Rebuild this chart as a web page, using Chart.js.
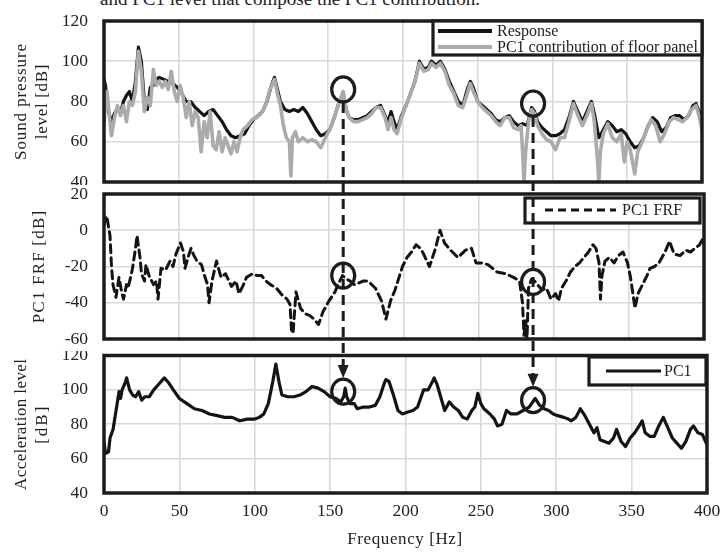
<!DOCTYPE html>
<html>
<head>
<meta charset="utf-8">
<script src="https://cdn.jsdelivr.net/npm/chart.js@4.4.0/dist/chart.umd.min.js"></script>
<style>
  html, body { margin: 0; padding: 0; background: #fff; }
  #wrap { position: relative; width: 722px; height: 552px; overflow: hidden; background: #fff; }
  canvas { position: absolute; left: 0; }
  #cap { position: absolute; left: 100px; top: -12px; font: 19px 'Liberation Serif', serif; color: #222; white-space: nowrap; }
</style>
</head>
<body>
<div id="wrap">
  <div id="cap">and PC1 level that compose the PC1 contribution.</div>
  <canvas id="c1" width="722" height="191" style="top:0"></canvas>
  <canvas id="c3" width="722" height="206" style="top:346px"></canvas>
  <canvas id="c2" width="722" height="166" style="top:185px;background:#fff"></canvas>
  <canvas id="ov" width="722" height="552" style="top:0"></canvas>
</div>
<script>
// ---- top panel: sound pressure level [dB]
const freqResponse = [
  0, 1, 3, 5, 7, 9, 11, 13, 15, 17,
  19, 21, 23, 25, 27, 29, 31, 33, 35, 37,
  40, 43, 46, 49, 52, 55, 58, 61, 64, 67,
  70, 73, 76, 79, 82, 85, 88, 91, 94, 97,
  100, 103, 106, 109, 112, 114, 116, 118, 121, 124,
  127, 130, 133, 136, 139, 142, 145, 148, 151, 154,
  157, 160, 162, 164, 167, 170, 173, 176, 179, 182,
  185, 188, 190, 192, 194, 196, 199, 202, 205, 208,
  211, 214, 217, 219, 222, 225, 228, 231, 234, 237,
  240, 243, 245, 247, 250, 253, 256, 259, 262, 265,
  268, 271, 274, 277, 280, 283, 286, 288, 290, 293,
  296, 299, 302, 305, 308, 311, 314, 317, 320, 323,
  326, 328, 331, 334, 337, 340, 343, 346, 349, 352,
  355, 358, 361, 364, 367, 370, 373, 376, 379, 382,
  385, 388, 391, 394, 396, 398, 400
];
const splResponse = [
  91, 88, 75, 70, 74, 76, 74, 80, 83, 85,
  80, 90, 107, 100, 80, 76, 87, 88, 91, 92,
  91, 90, 89, 87, 84, 80, 80, 77, 75, 73,
  75, 76, 73, 70, 66, 63, 62, 63, 64, 68,
  71, 73, 75, 80, 88, 92, 86, 80, 76, 75,
  76, 75, 77, 74, 70, 66, 63, 64, 66, 72,
  79, 84, 76, 72, 71, 71, 72, 73, 75, 77,
  78, 73, 70, 75, 70, 66, 73, 78, 84, 90,
  100, 96, 97, 100, 98, 100, 96, 90, 85, 80,
  78, 86, 90, 87, 80, 78, 76, 74, 71, 70,
  72, 73, 70, 68, 69, 68, 77, 75, 70, 67,
  65, 63, 63, 64, 66, 72, 80, 75, 70, 75,
  80, 74, 62, 66, 70, 68, 65, 66, 64, 60,
  57, 58, 62, 68, 72, 70, 65, 67, 72, 73,
  73, 71, 73, 78, 79, 75, 70
];
const freqContrib = [
  0, 1, 2, 4, 5, 7, 9, 11, 13, 15,
  17, 19, 21, 23, 25, 27, 29, 31, 33, 35,
  37, 39, 41, 43, 45, 47, 49, 51, 53, 55,
  57, 59, 61, 63, 65, 67, 69, 71, 73, 75,
  77, 79, 81, 83, 85, 87, 89, 91, 93, 96,
  99, 102, 105, 108, 111, 114, 116, 118, 120, 122,
  124, 125, 126, 128, 130, 133, 136, 139, 142, 145,
  148, 151, 154, 157, 160, 162, 164, 167, 170, 173,
  176, 179, 182, 185, 188, 190, 192, 194, 196, 199,
  202, 205, 208, 211, 214, 217, 219, 222, 225, 228,
  231, 234, 237, 240, 243, 245, 247, 250, 253, 256,
  259, 262, 265, 268, 271, 274, 277, 279, 280, 281,
  282, 284, 286, 288, 290, 293, 296, 299, 302, 305,
  308, 311, 314, 317, 320, 323, 326, 328, 330, 331,
  332, 334, 337, 340, 343, 346, 348, 350, 352, 354,
  355, 357, 360, 363, 366, 369, 372, 375, 378, 381,
  384, 387, 390, 393, 396, 398, 400
];
const splContrib = [
  68, 80, 85, 70, 63, 72, 78, 73, 78, 70,
  80, 78, 85, 105, 95, 75, 82, 78, 96, 88,
  90, 87, 90, 86, 95, 85, 80, 88, 82, 72,
  80, 68, 75, 72, 55, 70, 62, 75, 58, 56,
  65, 55, 62, 58, 54, 60, 55, 62, 66, 68,
  71, 72, 74, 78, 86, 91, 84, 78, 68, 62,
  60, 43, 62, 65, 60, 62, 60, 61, 60, 57,
  62, 66, 72, 79, 85, 76, 72, 70, 70, 71,
  72, 74, 77, 77, 72, 66, 72, 66, 64, 72,
  78, 84, 90, 99, 95, 96, 99, 97, 99, 95,
  88, 84, 78, 77, 84, 89, 85, 80, 77, 75,
  73, 70, 68, 72, 72, 67, 66, 68, 55, 40,
  55, 70, 76, 74, 68, 64, 61, 60, 56, 62,
  62, 70, 79, 73, 68, 73, 79, 70, 52, 40,
  55, 64, 69, 62, 60, 64, 50, 60, 56, 48,
  44, 55, 60, 66, 71, 68, 60, 64, 70, 72,
  71, 70, 72, 76, 78, 73, 66
];

// ---- middle panel: PC1 FRF [dB]
const freqFrf = [
  0, 1, 2, 4, 5, 6, 8, 10, 12, 13,
  15, 16, 18, 19, 21, 22, 24, 25, 27, 28,
  30, 33, 35, 36, 38, 41, 44, 46, 48, 51,
  53, 54, 56, 58, 60, 62, 65, 67, 69, 70,
  72, 75, 78, 81, 85, 88, 90, 93, 95, 99,
  102, 105, 108, 111, 115, 119, 122, 124, 125, 126,
  128, 131, 134, 137, 140, 143, 146, 150, 154, 156,
  159, 162, 164, 167, 170, 173, 176, 181, 185, 188,
  191, 194, 199, 202, 205, 208, 211, 213, 217, 221,
  224, 227, 231, 236, 241, 245, 248, 252, 256, 262,
  268, 273, 277, 279, 280, 281, 282, 283, 285, 287,
  289, 292, 295, 298, 301, 303, 305, 308, 311, 314,
  317, 320, 323, 326, 328, 330, 331, 332, 334, 337,
  340, 343, 346, 349, 351, 354, 356, 359, 362, 364,
  367, 370, 374, 377, 380, 384, 388, 391, 394, 397,
  399, 400
];
const frfPc1 = [
  3, 8, 7, -3, -20, -30, -37, -26, -35, -38,
  -30, -32, -25, -21, -10, -3, -15, -24, -28, -19,
  -25, -30, -28, -38, -21, -22, -17, -20, -13, -7,
  -12, -21, -15, -10, -14, -17, -19, -25, -30, -40,
  -28, -17, -26, -24, -31, -28, -35, -30, -26, -24,
  -25, -25, -28, -30, -32, -36, -38, -41, -55, -57,
  -34, -43, -46, -47, -49, -52, -45, -39, -34, -30,
  -25, -27, -28, -30, -29, -28, -28, -32, -39, -49,
  -39, -33, -20, -15, -12, -8, -10, -13, -20, -10,
  0, -7, -11, -15, -11, -10, -18, -18, -19, -23,
  -24, -26, -28, -40, -58, -50, -60, -32, -27, -28,
  -30, -33, -32, -38, -35, -39, -32, -28, -23, -20,
  -18, -15, -12, -8, -10, -18, -38, -25, -17, -15,
  -18, -14, -12, -18, -26, -43, -35, -30, -25, -21,
  -20, -18, -12, -6, -13, -14, -11, -12, -10, -8,
  -5, -8
];

// ---- bottom panel: acceleration level [dB]
const freqAcc = [
  0, 1, 3, 4, 6, 8, 10, 11, 12, 14,
  15, 17, 19, 21, 23, 25, 27, 30, 33, 36,
  40, 43, 46, 50, 55, 60, 65, 70, 75, 80,
  85, 90, 95, 100, 103, 106, 109, 112, 114, 116,
  118, 122, 126, 130, 134, 138, 142, 146, 150, 154,
  157, 159, 160, 161, 163, 166, 168, 172, 176, 180,
  183, 186, 187, 189, 192, 195, 198, 201, 205, 208,
  210, 212, 215, 218, 219, 221, 224, 226, 229, 232,
  235, 238, 241, 244, 246, 248, 250, 252, 256, 259,
  261, 264, 267, 270, 274, 278, 282, 286, 289, 292,
  295, 298, 301, 305, 308, 310, 313, 316, 319, 322,
  325, 327, 329, 332, 335, 338, 340, 343, 346, 349,
  352, 355, 357, 359, 362, 365, 368, 371, 374, 377,
  380, 383, 386, 389, 391, 394, 397, 400
];
const accPc1 = [
  70, 63, 64, 72, 77, 88, 99, 95, 100, 104,
  107, 100, 97, 96, 99, 94, 96, 96, 100, 103,
  107, 104, 100, 95, 92, 89, 88, 86, 85, 84,
  84, 82, 83, 83, 84, 86, 92, 105, 115, 105,
  97, 96, 96, 97, 99, 102, 101, 99, 96, 95,
  93, 96, 101, 96, 92, 92, 89, 90, 90, 91,
  96, 104, 106, 105, 97, 88, 86, 87, 88, 90,
  95, 100, 100, 105, 107, 103, 94, 88, 93, 90,
  88, 84, 83, 88, 90, 98, 92, 89, 86, 83,
  79, 80, 88, 86, 86, 88, 90, 95, 91, 89,
  88, 86, 85, 84, 83, 82, 84, 89, 85, 80,
  75, 78, 71, 70, 69, 72, 77, 70, 67, 72,
  75, 79, 82, 75, 73, 73, 79, 84, 78, 72,
  69, 66, 70, 77, 79, 75, 74, 68
];

// circled points and arrows
const markFreq = [160, 287];
const markSpl = [86, 79];
const markFrf = [-25, -28.5];
const markAcc = [99, 94];

const FONT = "'Liberation Serif', serif";
const INK = '#1c1c1c';
Chart.defaults.font.family = FONT;
Chart.defaults.color = '#222';

const pts = (xs, ys) => xs.map((x, i) => ({ x, y: ys[i] }));

const panelDecor = {
  id: 'panelDecor',
  afterDraw(chart, args, o) {
    const { ctx, chartArea: a } = chart;
    const off = o.top;
    ctx.save();
    ctx.strokeStyle = INK;
    ctx.lineWidth = 3.5;
    ctx.strokeRect(a.left, a.top, a.right - a.left, a.bottom - a.top);

    // y axis title
    ctx.fillStyle = '#222';
    ctx.font = '17px ' + FONT;
    ctx.textAlign = 'center';
    ctx.textBaseline = 'middle';
    o.titles.forEach(t => {
      ctx.save();
      ctx.translate(t.x, (a.top + a.bottom) / 2 + (t.dy || 0));
      ctx.rotate(-Math.PI / 2);
      ctx.letterSpacing = t.ls;
      ctx.fillText(t.text, 0, 0);
      ctx.restore();
    });

    // legend
    const L = o.legend;
    ctx.fillStyle = '#fff';
    ctx.fillRect(L.x0, L.y0 - off, L.x1 - L.x0, L.y1 - L.y0);
    ctx.strokeStyle = INK;
    ctx.lineWidth = 3.2;
    ctx.strokeRect(L.x0, L.y0 - off, L.x1 - L.x0, L.y1 - L.y0);
    ctx.font = '16px ' + FONT;
    ctx.textAlign = 'left';
    L.items.forEach(it => {
      const y = it.y - off;
      ctx.beginPath();
      ctx.strokeStyle = it.color;
      ctx.lineWidth = it.w;
      ctx.setLineDash(it.dash || []);
      ctx.moveTo(L.sx0, y);
      ctx.lineTo(L.sx1, y);
      ctx.stroke();
      ctx.setLineDash([]);
      ctx.fillStyle = '#222';
      ctx.fillText(it.label, L.tx, y + 1);
    });

    if (o.xTitle) {
      ctx.font = '17px ' + FONT;
      ctx.textAlign = 'center';
      ctx.letterSpacing = '0.6px';
      ctx.fillText(o.xTitle.text, o.xTitle.x, o.xTitle.y - off);
    }
    ctx.restore();
  }
};

// tick padding is done with invisible tick marks, so it does not eat into the plot height
function makePanel(id, cfg) {
  return new Chart(document.getElementById(id), {
    type: 'line',
    data: { datasets: cfg.datasets },
    options: {
      responsive: false,
      animation: false,
      devicePixelRatio: 1,
      layout: { padding: cfg.padding },
      plugins: { legend: { display: false }, tooltip: { enabled: false }, panelDecor: cfg.decor },
      elements: { point: { radius: 0 }, line: { tension: 0, borderJoinStyle: 'round', borderCapStyle: 'round' } },
      scales: {
        x: {
          type: 'linear', min: 0, max: 400,
          border: { display: false },
          grid: { color: '#d9d9d9', lineWidth: 1.6, drawTicks: cfg.xTicks, tickLength: 8, tickColor: 'rgba(0,0,0,0)' },
          ticks: { display: cfg.xTicks, stepSize: 50, font: { size: 17.5 }, padding: 0, maxRotation: 0 },
          afterFit: s => { s.height = cfg.xHeight; }
        },
        y: {
          min: cfg.yMin, max: cfg.yMax,
          border: { display: false },
          grid: { color: '#d9d9d9', lineWidth: 1.6, drawTicks: true, tickLength: 16, tickColor: 'rgba(0,0,0,0)' },
          ticks: { stepSize: 20, font: { size: 17.5, lineHeight: 1 }, padding: 0 },
          afterFit: s => { s.width = 104; }
        }
      }
    },
    plugins: [panelDecor]
  });
}

const c1 = makePanel('c1', {
  padding: { top: 21, right: 20, bottom: 9, left: 0 },
  yMin: 40, yMax: 120, xTicks: false, xHeight: 0,
  datasets: [
    { data: pts(freqResponse, splResponse), borderColor: '#141414', borderWidth: 3.2, order: 1 },
    { data: pts(freqContrib, splContrib), borderColor: '#ababab', borderWidth: 3.6, order: 0 }
  ],
  decor: {
    top: 0,
    titles: [
      { text: 'Sound pressure', x: 22, ls: '0.9px' },
      { text: 'level [dB]', x: 43, ls: '0.7px' }
    ],
    legend: {
      x0: 433, x1: 702, y0: 21, y1: 55, sx0: 438, sx1: 492, tx: 497,
      items: [
        { label: 'Response', color: '#141414', w: 4, y: 31 },
        { label: 'PC1 contribution of floor panel', color: '#ababab', w: 4, y: 47 }
      ]
    }
  }
});

const c2 = makePanel('c2', {
  padding: { top: 9, right: 18, bottom: 12, left: 0 },
  yMin: -60, yMax: 20, xTicks: false, xHeight: 0,
  datasets: [
    { data: pts(freqFrf, frfPc1), borderColor: '#141414', borderWidth: 3, borderDash: [8, 5] }
  ],
  decor: {
    top: 185,
    titles: [{ text: 'PC1 FRF [dB]', x: 40, ls: '1.2px' }],
    legend: {
      x0: 525, x1: 700, y0: 198, y1: 223, sx0: 545, sx1: 616, tx: 622,
      items: [{ label: 'PC1 FRF', color: '#141414', w: 3.2, dash: [8, 5], y: 210 }]
    }
  }
});

const c3 = makePanel('c3', {
  padding: { top: 9.5, right: 15, bottom: 0, left: 0 },
  yMin: 40, yMax: 120, xTicks: true, xHeight: 59,
  datasets: [
    { data: pts(freqAcc, accPc1), borderColor: '#141414', borderWidth: 3.2 }
  ],
  decor: {
    top: 346,
    titles: [
      { text: 'Acceleration level', x: 22, ls: '0.4px' },
      { text: '[dB]', x: 43, ls: '2px' }
    ],
    legend: {
      x0: 589, x1: 706, y0: 357, y1: 385, sx0: 606, sx1: 661, tx: 664,
      items: [{ label: 'PC1', color: '#141414', w: 3.2, y: 371 }]
    },
    xTitle: { text: 'Frequency [Hz]', x: 405, y: 540 }
  }
});

// overlay: circles and dashed arrows across the three panels
(function drawOverlay() {
  const ctx = document.getElementById('ov').getContext('2d');
  const rx = 11.5, ry = 12.5;
  ctx.strokeStyle = INK;
  ctx.fillStyle = INK;
  markFreq.forEach((f, i) => {
    const x = c1.scales.x.getPixelForValue(f);
    const y1 = c1.scales.y.getPixelForValue(markSpl[i]);
    const y2 = c2.scales.y.getPixelForValue(markFrf[i]) + 185;
    const y3 = c3.scales.y.getPixelForValue(markAcc[i]) + 346;
    ctx.lineWidth = 3.2;
    [y1, y2, y3].forEach(cy => {
      ctx.beginPath();
      ctx.ellipse(x, cy, rx, ry, 0, 0, Math.PI * 2);
      ctx.stroke();
    });
    const tip = y3 - ry - 1;
    ctx.beginPath();
    ctx.setLineDash([10, 6]);
    ctx.lineWidth = 3;
    ctx.moveTo(x, y1 + ry + 1);
    ctx.lineTo(x, tip - 11);
    ctx.stroke();
    ctx.setLineDash([]);
    ctx.beginPath();
    ctx.moveTo(x, tip);
    ctx.lineTo(x - 5.5, tip - 13);
    ctx.lineTo(x + 5.5, tip - 13);
    ctx.closePath();
    ctx.fill();
  });
})();
</script>
</body>
</html>
